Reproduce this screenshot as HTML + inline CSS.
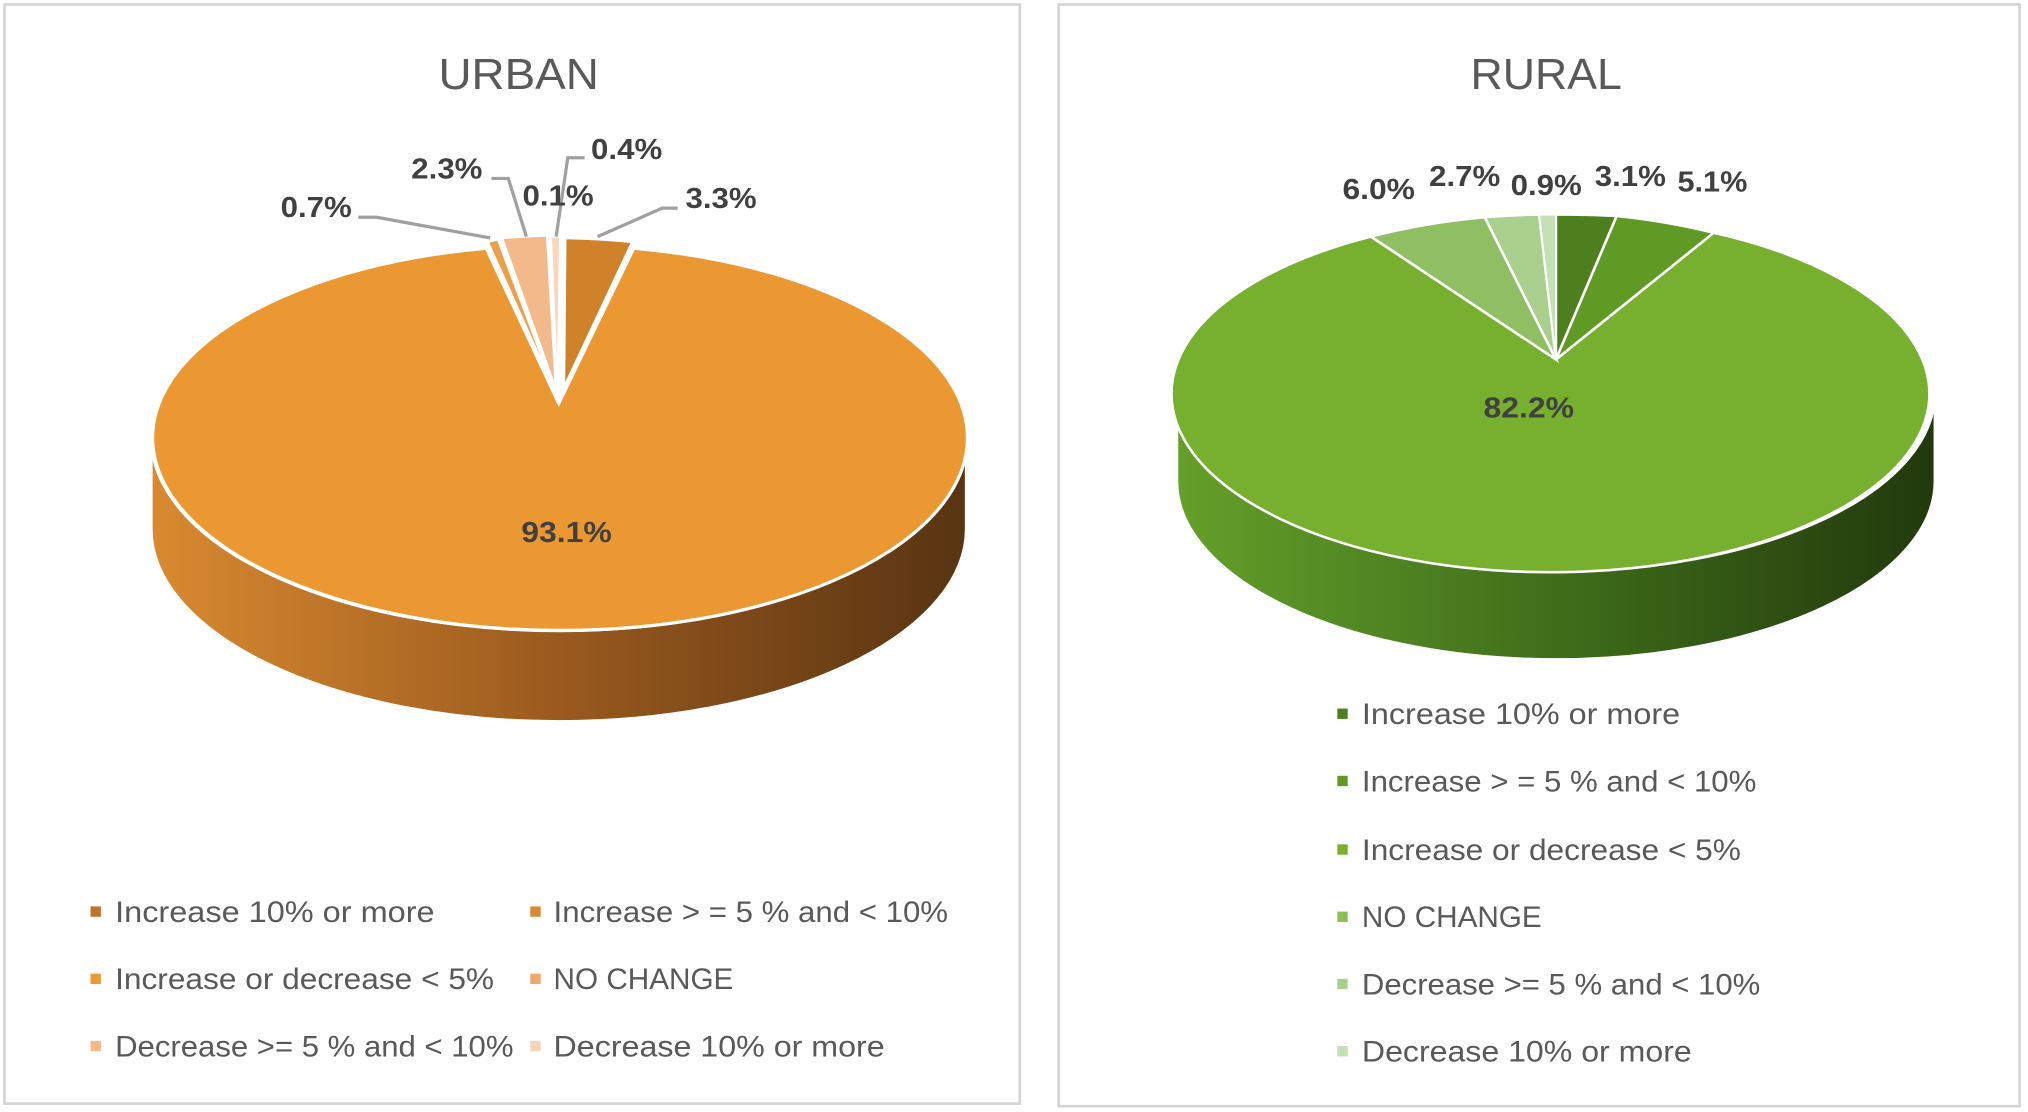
<!DOCTYPE html>
<html><head><meta charset="utf-8"><style>
html,body{margin:0;padding:0;background:#fff;}
svg{display:block;}
text{font-family:"Liberation Sans",sans-serif;}
</style></head><body>
<svg width="2028" height="1112" viewBox="0 0 1568 860" preserveAspectRatio="none" xmlns="http://www.w3.org/2000/svg">
<defs>
<linearGradient id="gu" x1="0" x2="1" y1="0" y2="0">
<stop offset="0" stop-color="#d98a30"/><stop offset="0.5" stop-color="#9a5a1e"/><stop offset="1" stop-color="#583412"/>
</linearGradient>
<linearGradient id="gr" x1="0" x2="1" y1="0" y2="0">
<stop offset="0" stop-color="#64a02a"/><stop offset="0.5" stop-color="#3f6e1a"/><stop offset="1" stop-color="#22390c"/>
</linearGradient>
</defs>
<rect x="3.5" y="3.5" width="785" height="850" fill="#fff" stroke="#d4d4d4" stroke-width="2"/>
<rect x="818.5" y="3.5" width="743" height="852" fill="#fff" stroke="#d4d4d4" stroke-width="2"/>

<!-- URBAN -->
<text x="339" y="69" font-size="34" fill="#595959" textLength="124" lengthAdjust="spacingAndGlyphs">URBAN</text>
<path d="M117,339 A315 149 0 0 0 747,339 L747,409 A315 149 0 0 1 117,409 Z" fill="url(#gu)" stroke="#fff" stroke-width="2"/>
<path d="M432,312 L490,192 A315 149 0 1 1 376,192 Z" fill="#ec9832" stroke="#fff" stroke-width="2.5"/>
<path d="M436,300 L437,184 A315 149 0 0 1 489,187 Z" fill="#d0822a" stroke="#fff" stroke-width="2"/>
<path d="M430,305 L377,187 A315 149 0 0 1 385,185 Z" fill="#ee9e48" stroke="#fff" stroke-width="2"/>
<path d="M430,302 L388,184 A315 149 0 0 1 423,182 Z" fill="#f4b98a" stroke="#fff" stroke-width="2"/>
<path d="M431,302 L426,183 A315 149 0 0 1 433,183 Z" fill="#f7d7bd" stroke="#fff" stroke-width="1.5"/>
<g fill="none" stroke="#a0a0a0" stroke-width="2.5">
<polyline points="277,168 291,168 379,184"/>
<polyline points="380,138 393,138 407,183"/>
<polyline points="452,122 439,122 430,183"/>
<polyline points="524,161 512,161 462,183"/>
</g>
<g font-size="22" font-weight="bold" fill="#404040" lengthAdjust="spacingAndGlyphs">
<text x="217" y="168" textLength="55" lengthAdjust="spacingAndGlyphs">0.7%</text>
<text x="318" y="138" textLength="55" lengthAdjust="spacingAndGlyphs">2.3%</text>
<text x="404" y="159" textLength="55" lengthAdjust="spacingAndGlyphs">0.1%</text>
<text x="457" y="123" textLength="55" lengthAdjust="spacingAndGlyphs">0.4%</text>
<text x="530" y="161" textLength="55" lengthAdjust="spacingAndGlyphs">3.3%</text>
<text x="403" y="419" textLength="70" lengthAdjust="spacingAndGlyphs">93.1%</text>
</g>
<g font-size="23" fill="#595959">
<rect x="70" y="701" width="8" height="8" fill="#c0722a"/><text x="89" y="713" textLength="247" lengthAdjust="spacingAndGlyphs">Increase 10% or more</text>
<rect x="410" y="701" width="8" height="8" fill="#d98a30"/><text x="428" y="713" textLength="305" lengthAdjust="spacingAndGlyphs">Increase &gt; = 5 % and &lt; 10%</text>
<rect x="70" y="753" width="8" height="8" fill="#ed9a34"/><text x="89" y="765" textLength="293" lengthAdjust="spacingAndGlyphs">Increase or decrease &lt; 5%</text>
<rect x="410" y="753" width="8" height="8" fill="#f0a868"/><text x="428" y="765" textLength="139" lengthAdjust="spacingAndGlyphs">NO CHANGE</text>
<rect x="70" y="805" width="8" height="8" fill="#f4b98a"/><text x="89" y="817" textLength="308" lengthAdjust="spacingAndGlyphs">Decrease &gt;= 5 % and &lt; 10%</text>
<rect x="410" y="805" width="8" height="8" fill="#f8d3b5"/><text x="428" y="817" textLength="256" lengthAdjust="spacingAndGlyphs">Decrease 10% or more</text>
</g>

<!-- RURAL -->
<text x="1137" y="69" font-size="34" fill="#595959" textLength="117" lengthAdjust="spacingAndGlyphs">RURAL</text>
<path d="M910,304 A293 138 0 0 0 1496,304 L1496,372 A293 138 0 0 1 910,372 Z" fill="url(#gr)" stroke="#fff" stroke-width="2"/>
<path d="M1203,278 L1325,180 A293 138 0 1 1 1060,183 Z" fill="#76b02e" stroke="#fff" stroke-width="2"/>
<path d="M1203,278 L1203,166 A293 138 0 0 1 1250,167 Z" fill="#4e7f1e" stroke="#fff" stroke-width="2"/>
<path d="M1203,278 L1250,167 A293 138 0 0 1 1325,180 Z" fill="#5f9a25" stroke="#fff" stroke-width="2"/>
<path d="M1203,278 L1060,183 A293 138 0 0 1 1148,168 Z" fill="#8fbf62" stroke="#fff" stroke-width="2"/>
<path d="M1203,278 L1148,168 A293 138 0 0 1 1190,166 Z" fill="#a9cf8d" stroke="#fff" stroke-width="2"/>
<path d="M1203,278 L1190,166 A293 138 0 0 1 1203,166 Z" fill="#c5dfb6" stroke="#fff" stroke-width="1.5"/>
<g font-size="22" font-weight="bold" fill="#404040">
<text x="1038" y="154" textLength="56" lengthAdjust="spacingAndGlyphs">6.0%</text>
<text x="1105" y="144" textLength="55" lengthAdjust="spacingAndGlyphs">2.7%</text>
<text x="1168" y="151" textLength="55" lengthAdjust="spacingAndGlyphs">0.9%</text>
<text x="1233" y="144" textLength="55" lengthAdjust="spacingAndGlyphs">3.1%</text>
<text x="1297" y="148" textLength="54" lengthAdjust="spacingAndGlyphs">5.1%</text>
<text x="1147" y="323" textLength="70" lengthAdjust="spacingAndGlyphs">82.2%</text>
</g>
<g font-size="23" fill="#595959">
<rect x="1034" y="548" width="8" height="8" fill="#4e7f1e"/><text x="1053" y="560" textLength="246" lengthAdjust="spacingAndGlyphs">Increase 10% or more</text>
<rect x="1034" y="600" width="8" height="8" fill="#5f9a25"/><text x="1053" y="612" textLength="305" lengthAdjust="spacingAndGlyphs">Increase &gt; = 5 % and &lt; 10%</text>
<rect x="1034" y="653" width="8" height="8" fill="#76b02e"/><text x="1053" y="665" textLength="293" lengthAdjust="spacingAndGlyphs">Increase or decrease &lt; 5%</text>
<rect x="1034" y="705" width="8" height="8" fill="#8bbf55"/><text x="1053" y="717" textLength="139" lengthAdjust="spacingAndGlyphs">NO CHANGE</text>
<rect x="1034" y="757" width="8" height="8" fill="#a9cf8d"/><text x="1053" y="769" textLength="308" lengthAdjust="spacingAndGlyphs">Decrease &gt;= 5 % and &lt; 10%</text>
<rect x="1034" y="809" width="8" height="8" fill="#c5dfb6"/><text x="1053" y="821" textLength="255" lengthAdjust="spacingAndGlyphs">Decrease 10% or more</text>
</g>
</svg>
</body></html>
